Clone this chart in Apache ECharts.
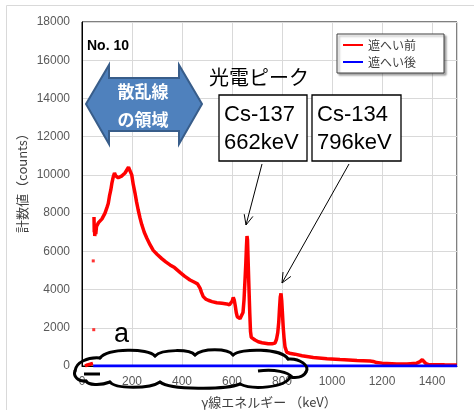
<!DOCTYPE html>
<html>
<head>
<meta charset="utf-8">
<script src="https://cdn.jsdelivr.net/npm/echarts@6/dist/echarts.min.js"></script>
<style>
  html, body { margin: 0; padding: 0; background: #fff; }
  #chart { width: 474px; height: 410px; }
</style>
</head>
<body>
<div id="chart"></div>
<script>
// 遮へい前 (keV, counts), '-' breaks the line
var beforeLow = [[12, 0], [22, 60], [32, 90], [44, 140]];
var beforeMain = [
  [48, 7800], [49, 7000], [50, 7300], [51, 6800], [53, 7200], [55, 6900], [58, 7300],
  [62, 7200], [66, 7500], [72, 7550], [80, 7700], [92, 8000], [100, 8300], [105, 8500],
  [110, 8900], [115, 9200], [120, 9600], [125, 9900], [130, 10100], [135, 9950],
  [140, 10000], [145, 9850], [152, 9900], [160, 9950], [165, 10000], [172, 10100],
  [180, 10200], [186, 10400], [190, 10500], [194, 10300], [199, 10000], [205, 9500],
  [212, 9050], [218, 8600], [225, 8150], [232, 7750], [239, 7400], [249, 7000],
  [259, 6700], [272, 6350], [285, 6050], [300, 5850], [319, 5620], [335, 5450],
  [352, 5290], [370, 5150], [392, 4900], [410, 4700], [432, 4500], [450, 4380],
  [462, 4300], [472, 4080], [478, 3850], [485, 3630], [495, 3500], [505, 3440],
  [520, 3370], [539, 3310], [560, 3280], [579, 3250], [590, 3200], [596, 3180],
  [601, 3400], [605, 3590], [609, 3450], [613, 3150], [617, 2800], [621, 2580],
  [626, 2500], [632, 2480], [638, 2550], [644, 2800], [648, 3450], [652, 4500],
  [655, 5300], [658, 6300], [660, 6800], [662, 6600], [665, 5300], [668, 4000],
  [671, 2800], [674, 1800], [677, 1500], [685, 1420], [692, 1360], [705, 1270],
  [720, 1220], [745, 1160], [760, 1160], [772, 1200], [778, 1400], [783, 1750],
  [787, 2300], [790, 3000], [793, 3600], [796, 3800], [799, 3400], [802, 2700],
  [805, 2000], [808, 1500], [812, 1000], [819, 720], [835, 650], [852, 620],
  [880, 540], [925, 440], [980, 380], [1032, 340], [1040, 370], [1050, 330],
  [1100, 290], [1152, 260], [1165, 240], [1172, 270], [1178, 180], [1200, 150],
  [1259, 110], [1300, 110], [1339, 150], [1352, 230], [1361, 330], [1368, 270],
  [1376, 120], [1385, 80], [1450, 60], [1500, 50]
];
var beforeStray = [[45, 5500], [47, 1900]];
// 遮へい後
var after = [[45, 0], [400, 0], [800, 0], [1200, 0], [1500, 0]];

var xMax = 1500, xStep = 200;
var yMax = 18000, yStep = 2000;

var chart = echarts.init(document.getElementById('chart'));
var jp = '"Noto Sans CJK JP", sans-serif';
var latin = '"Liberation Sans", Arial, sans-serif';

function arrow(x1, y1, x2, y2) {
  var a = Math.atan2(y2 - y1, x2 - x1), L = 11, s = 0.42;
  return [
    { type: 'line', z: 10, shape: { x1: x1, y1: y1, x2: x2, y2: y2 }, style: { stroke: '#000', lineWidth: 1 } },
    { type: 'polyline', z: 10, shape: { points: [
        [x2 - L * Math.cos(a - s), y2 - L * Math.sin(a - s)], [x2, y2],
        [x2 - L * Math.cos(a + s), y2 - L * Math.sin(a + s)]] },
      style: { stroke: '#000', lineWidth: 1, fill: null } }
  ];
}

function labelBox(x, y, w, h, l1, l2) {
  return [
    { type: 'rect', z: 10, shape: { x: x, y: y, width: w, height: h }, style: { fill: '#fff', stroke: '#000', lineWidth: 1.3 } },
    { type: 'text', z: 11, x: x + 5, y: y + 20, style: { text: l1, font: '22px ' + latin, fill: '#000', verticalAlign: 'middle' } },
    { type: 'text', z: 11, x: x + 5, y: y + 48, style: { text: l2, font: '22px ' + latin, fill: '#000', verticalAlign: 'middle' } }
  ];
}

// cloud outline as cubic segments: start point then [cp1, cp2, end] triples
var cloudStart = [75, 371];
var cloudSegs = [
  [76, 362, 88, 357, 100, 358], [108, 348, 148, 348, 155, 356], [162, 349, 190, 349, 195, 355],
  [202, 348, 228, 348, 233, 355], [240, 348, 282, 348, 288, 359], [300, 358, 310, 366, 306, 372],
  [303, 378, 295, 378, 290, 377], [285, 388, 252, 390, 240, 384], [225, 390, 170, 390, 160, 382],
  [150, 389, 115, 389, 110, 382], [100, 386, 88, 385, 86, 381], [78, 382, 73, 376, 75, 371]
];
function curves(start, segs) {
  var out = [], p = start;
  segs.forEach(function (s) {
    out.push({ type: 'bezierCurve', z: 10,
      shape: { x1: p[0], y1: p[1], cpx1: s[0], cpy1: s[1], cpx2: s[2], cpy2: s[3], x2: s[4], y2: s[5] },
      style: { stroke: '#000', lineWidth: 3, fill: null, lineCap: 'round' } });
    p = [s[4], s[5]];
  });
  return out;
}

var graphics = [
  { type: 'rect', z: -1, shape: { x: 6.5, y: 5.5, width: 480, height: 420 }, style: { fill: null, stroke: '#d9d9d9', lineWidth: 1 } },
  { type: 'text', x: 22, y: 180, rotation: Math.PI / 2, style: { text: '計数値（counts）', font: '13px ' + jp, fill: '#404040', align: 'center', verticalAlign: 'middle' } },
  { type: 'text', x: 269, y: 402, style: { text: 'γ線エネルギー （keV）', font: '13px ' + jp, fill: '#404040', align: 'center', verticalAlign: 'middle' } },
  { type: 'text', x: 87, y: 46, z: 10, style: { text: 'No. 10', font: 'bold 14px ' + latin, fill: '#000', verticalAlign: 'middle' } },
  { type: 'polygon', z: 10, shape: { points: [[86, 104], [109, 65], [109, 78], [179, 78], [179, 65], [202, 104],
      [179, 144], [179, 131], [109, 131], [109, 144]] },
    style: { fill: '#4f81bd', stroke: '#385d8a', lineWidth: 2 } },
  { type: 'text', x: 143, y: 92, z: 11, style: { text: '散乱線', font: 'bold 17px ' + jp, fill: '#fff', align: 'center', verticalAlign: 'middle' } },
  { type: 'text', x: 143, y: 120, z: 11, style: { text: 'の領域', font: 'bold 17px ' + jp, fill: '#fff', align: 'center', verticalAlign: 'middle' } },
  { type: 'text', x: 209, y: 77, z: 10, style: { text: '光電ピーク', font: '20px ' + jp, fill: '#000', verticalAlign: 'middle' } },
  { type: 'text', x: 114, y: 335, z: 10, style: { text: 'a', font: '27px ' + latin, fill: '#000', verticalAlign: 'middle' } },
  { type: 'line', z: 10, shape: { x1: 84, y1: 374, x2: 100, y2: 374 }, style: { stroke: '#000', lineWidth: 3 } },
  { type: 'bezierCurve', z: 10, shape: { x1: 258, y1: 371, cpx1: 275, cpy1: 369, cpx2: 288, cpy2: 372, x2: 292, y2: 377 },
    style: { stroke: '#000', lineWidth: 3, fill: null } }
].concat(curves(cloudStart, cloudSegs))
 .concat(labelBox(219, 95, 88, 66, 'Cs-137', '662keV'))
 .concat(labelBox(312, 95, 89, 66, 'Cs-134', '796keV'))
 .concat(arrow(262, 164, 246, 225))
 .concat(arrow(349, 164, 282, 283));

function plain(v) { return String(v); }

chart.setOption({
  animation: false,
  grid: { left: 82, right: 17, top: 22, bottom: 44, show: true, borderColor: '#000', borderWidth: 1 },
  legend: {
    orient: 'vertical', left: 337, top: 34,
    padding: [5, 28, 5, 6], itemGap: 5, itemWidth: 20, itemHeight: 2,
    backgroundColor: '#fff', borderColor: '#404040', borderWidth: 1,
    shadowColor: 'rgba(0,0,0,0.35)', shadowBlur: 2, shadowOffsetX: 2, shadowOffsetY: 2,
    textStyle: { fontFamily: jp, fontSize: 12, color: '#404040' },
    data: [{ name: '遮へい前', icon: 'rect' }, { name: '遮へい後', icon: 'rect' }]
  },
  xAxis: {
    type: 'value', min: 0, max: xMax, interval: xStep,
    axisLine: { lineStyle: { color: '#000' } },
    axisTick: { show: false },
    axisLabel: { showMaxLabel: false, margin: 10, fontFamily: latin, fontSize: 12, color: '#595959', formatter: plain },
    splitLine: { show: true, lineStyle: { color: '#d9d9d9', width: 1 } }
  },
  yAxis: {
    type: 'value', min: 0, max: yMax, interval: yStep,
    axisLine: { show: true, lineStyle: { color: '#000' } },
    axisTick: { show: false },
    axisLabel: { margin: 12, fontFamily: latin, fontSize: 12, color: '#595959', formatter: plain },
    splitLine: { show: true, lineStyle: { color: '#d9d9d9', width: 1 } }
  },
  series: [
    {
      name: '遮へい前', type: 'line', showSymbol: false, color: '#ff0000',
      lineStyle: { width: 3.5, color: '#ff0000' }, connectNulls: false,
      data: beforeLow.concat([[46, '-']], beforeMain)
    },
    {
      name: '遮へい前', type: 'scatter', symbol: 'rect', symbolSize: 3, color: '#ff0000',
      data: beforeStray
    },
    {
      name: '遮へい後', type: 'line', showSymbol: false, color: '#0000ff',
      lineStyle: { width: 3, color: '#0000ff' },
      data: after
    }
  ],
  graphic: graphics
});
</script>
</body>
</html>
